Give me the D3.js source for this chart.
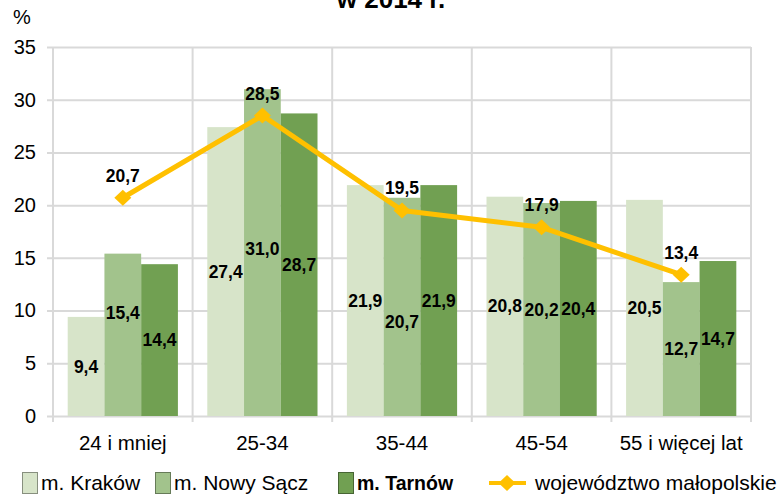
<!DOCTYPE html>
<html>
<head>
<meta charset="utf-8">
<script src="https://cdn.jsdelivr.net/npm/d3@7"></script>
<style>
  body { margin: 0; background: #fff; }
  svg { display: block; font-family: "Liberation Sans", Arial, sans-serif; }
</style>
</head>
<body>
<svg id="chart"></svg>
<script>
// Age groups and series values
const categories = ['24 i mniej', '25-34', '35-44', '45-54', '55 i więcej lat'];
const seriesNames = ['m. Kraków', 'm. Nowy Sącz', 'm. Tarnów'];
const krakow = [9.4, 27.4, 21.9, 20.8, 20.5];
const nowySacz = [15.4, 31.0, 20.7, 20.2, 12.7];
const tarnow = [14.4, 28.7, 21.9, 20.4, 14.7];
const lineName = 'województwo małopolskie';
const malopolskie = [20.7, 28.5, 19.5, 17.9, 13.4];
const yTicks = [0, 5, 10, 15, 20, 25, 30, 35];

const barColors = ['#d7e4c9', '#a2c38c', '#71a052'];
const lineColor = '#ffc000';
const gridColor = '#d9d9d9';

const width = 782, height = 497;
const margin = {top: 47, right: 31, bottom: 81, left: 53};
const innerW = width - margin.left - margin.right;
const innerH = height - margin.top - margin.bottom;

const svg = d3.select('#chart')
    .attr('width', width)
    .attr('height', height);

// title (only its last line shows at the top edge, as in the original)
svg.append('text')
    .attr('x', 391)
    .attr('y', 8)
    .attr('text-anchor', 'middle')
    .style('font-size', '26px')
    .style('font-weight', 'bold')
    .text('w 2014 r.');

svg.append('text')
    .attr('x', 13)
    .attr('y', 24)
    .style('font-size', '20px')
    .text('%');

const chart = svg.append('g')
    .attr('transform', `translate(${margin.left},${margin.top})`);

// scales
const x0 = d3.scaleBand().domain(categories).range([0, innerW]);
const x1 = d3.scaleBand().domain(seriesNames).range([0, x0.bandwidth()]).paddingOuter(0.4);
const y = d3.scaleLinear().domain([0, 35]).range([innerH, 0]);

// horizontal gridlines + y labels
const yAxis = d3.axisLeft(y)
    .tickValues(yTicks)
    .tickSize(-innerW)
    .tickPadding(12);
chart.append('g')
    .call(yAxis)
    .call(g => g.select('.domain').remove())
    .call(g => g.selectAll('.tick line')
        .attr('x1', -6).attr('x2', innerW)
        .attr('stroke', gridColor).attr('stroke-width', 2))
    .call(g => g.selectAll('.tick text')
        .attr('x', -17)
        .attr('dy', '0.32em')
        .style('font-size', '20px')
        .style('font-family', '"Liberation Sans", Arial, sans-serif')
        .attr('fill', '#000'));

// vertical gridlines at band boundaries
const bounds = categories.map(c => x0(c)).concat([innerW]);
chart.append('g')
    .selectAll('line')
    .data(bounds)
    .join('line')
    .attr('x1', d => d).attr('x2', d => d)
    .attr('y1', 0).attr('y2', innerH + 6)
    .attr('stroke', gridColor)
    .attr('stroke-width', 2);

// x labels
chart.append('g')
    .selectAll('text')
    .data(categories)
    .join('text')
    .attr('x', d => x0(d) + x0.bandwidth() / 2)
    .attr('y', innerH + 34)
    .attr('text-anchor', 'middle')
    .style('font-size', '20.5px')
    .text(d => d);

// bars
const barData = [];
const seriesValues = [krakow, nowySacz, tarnow];
categories.forEach((c, i) => {
  seriesNames.forEach((s, j) => {
    barData.push({cat: c, series: s, idx: j, value: seriesValues[j][i]});
  });
});

chart.append('g')
    .selectAll('rect')
    .data(barData)
    .join('rect')
    .attr('x', d => x0(d.cat) + x1(d.series))
    .attr('y', d => y(d.value))
    .attr('width', x1.bandwidth())
    .attr('height', d => innerH - y(d.value))
    .attr('fill', d => barColors[d.idx]);

const fmt = v => v.toFixed(1).replace('.', ',');

// a few labels were dragged off-centre in the original
const labelNudge = {
  'm. Nowy Sącz|24 i mniej': -22,
  'm. Nowy Sącz|25-34': -4,
  'm. Nowy Sącz|35-44': 15
};

chart.append('g')
    .selectAll('text')
    .data(barData)
    .join('text')
    .attr('x', d => x0(d.cat) + x1(d.series) + x1.bandwidth() / 2)
    .attr('y', d => (y(d.value) + innerH) / 2 + (labelNudge[d.series + '|' + d.cat] || 0))
    .attr('dy', '0.35em')
    .attr('text-anchor', 'middle')
    .style('font-size', '17.5px')
    .style('font-weight', 'bold')
    .text(d => fmt(d.value));

// voivodeship line
const lineData = categories.map((c, i) => ({cat: c, value: malopolskie[i]}));
const cx = d => x0(d.cat) + x0.bandwidth() / 2;

chart.append('path')
    .datum(lineData)
    .attr('fill', 'none')
    .attr('stroke', lineColor)
    .attr('stroke-width', 5)
    .attr('stroke-linejoin', 'round')
    .attr('d', d3.line().x(cx).y(d => y(d.value)));

const diamond = 'M0,-8L8.5,0L0,8L-8.5,0Z';
chart.append('g')
    .selectAll('path')
    .data(lineData)
    .join('path')
    .attr('transform', d => `translate(${cx(d)},${y(d.value)})`)
    .attr('d', diamond)
    .attr('fill', lineColor);

chart.append('g')
    .selectAll('text')
    .data(lineData)
    .join('text')
    .attr('x', cx)
    .attr('y', d => y(d.value) - 16)
    .attr('text-anchor', 'middle')
    .style('font-size', '17.5px')
    .style('font-weight', 'bold')
    .text(d => fmt(d.value));

// legend
const legend = svg.append('g').attr('transform', 'translate(0,472)');
const legendItems = [
  {label: seriesNames[0], x: 22, bold: false},
  {label: seriesNames[1], x: 155, bold: false},
  {label: seriesNames[2], x: 338, bold: true}
];
legendItems.forEach((it, i) => {
  legend.append('rect')
      .attr('x', it.x + 0.5).attr('y', 0.5)
      .attr('width', 15).attr('height', 21)
      .attr('fill', barColors[i])
      .attr('stroke', d3.color(barColors[i]).darker(1.3))
      .attr('stroke-width', 1);
  legend.append('text')
      .attr('x', it.x + 19)
      .attr('y', 18)
      .style('font-size', it.bold ? '19.5px' : '21px')
      .style('font-weight', it.bold ? 'bold' : 'normal')
      .text(it.label);
});
legend.append('line')
    .attr('x1', 489).attr('x2', 526)
    .attr('y1', 11).attr('y2', 11)
    .attr('stroke', lineColor)
    .attr('stroke-width', 4);
legend.append('path')
    .attr('transform', 'translate(507,11)')
    .attr('d', diamond)
    .attr('fill', lineColor);
legend.append('text')
    .attr('x', 535)
    .attr('y', 18)
    .style('font-size', '21px')
    .text(lineName);
</script>
</body>
</html>
